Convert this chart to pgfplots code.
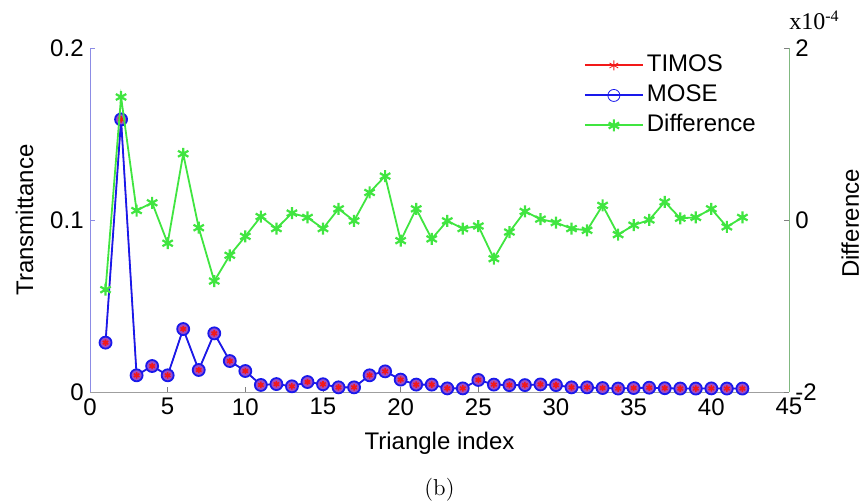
\documentclass[border=0pt]{standalone}
\usepackage{fontspec}
\usepackage{pgfplots}
\usepackage{pgfplotstable}
\pgfplotsset{compat=1.18}
\newfontfamily\arialfont{Liberation Sans}
\newfontfamily\timesfont{Liberation Serif}
\definecolor{mred}{rgb}{0.95,0.1,0.1}
\definecolor{mblue}{rgb}{0.1,0.1,0.92}
\definecolor{mgreen}{rgb}{0.25,0.9,0.25}
\definecolor{mpurple}{rgb}{0.62,0.3,0.78}
\definecolor{spineL}{rgb}{0.55,0.55,0.9}
\definecolor{spineR}{rgb}{0.5,0.72,0.5}

\pgfplotstableread{
x t
1 0.0287
2 0.1585
3 0.0097
4 0.0151
5 0.0097
6 0.0366
7 0.0128
8 0.0341
9 0.0180
10 0.0122
11 0.0041
12 0.0046
13 0.0033
14 0.0058
15 0.0045
16 0.0027
17 0.0027
18 0.0097
19 0.0120
20 0.0072
21 0.0043
22 0.0043
23 0.0021
24 0.0021
25 0.0070
26 0.0043
27 0.0040
28 0.0040
29 0.0044
30 0.0040
31 0.0027
32 0.0027
33 0.0023
34 0.0020
35 0.0023
36 0.0025
37 0.0022
38 0.0020
39 0.0020
40 0.0021
41 0.0020
42 0.0020
}\transdata

\pgfplotstableread{
x d
1 -0.81
2 1.43
3 0.11
4 0.20
5 -0.27
6 0.77
7 -0.09
8 -0.71
9 -0.41
10 -0.19
11 0.04
12 -0.10
13 0.08
14 0.03
15 -0.10
16 0.13
17 -0.01
18 0.32
19 0.51
20 -0.24
21 0.13
22 -0.22
23 -0.01
24 -0.10
25 -0.07
26 -0.45
27 -0.14
28 0.10
29 0.01
30 -0.03
31 -0.10
32 -0.12
33 0.17
34 -0.17
35 -0.06
36 0.00
37 0.21
38 0.02
39 0.03
40 0.13
41 -0.08
42 0.03
}\diffdata

\begin{document}
\begin{tikzpicture}
\useasboundingbox (-45pt,-55pt) rectangle (386pt,196pt);
\pgfplotsset{
  every axis/.append style={
    width=349.5pt, height=172pt, scale only axis,
    at={(0,0)}, anchor=south west,
    xmin=0, xmax=45,
    tick align=inside, major tick length=2.5pt,
    /pgf/number format/assume math mode=true,
    tick label style={font=\arialfont\fontsize{12}{14}\selectfont, inner sep=1pt},
    label style={font=\arialfont\fontsize{12}{14}\selectfont},
  },
}
\begin{axis}[
  ymin=0, ymax=0.2,
  xtick={0,5,...,45}, ytick={0,0.1,0.2},
  yticklabels={0,0.1,0.2},
  axis x line*=bottom, axis y line*=left,
  x axis line style={-, draw=gray!75},
  y axis line style={-, draw=spineL},
  xtick style={gray}, ytick style={spineL},
  xticklabel style={yshift=-2pt},
  yticklabel style={xshift=-2pt},
  xlabel={Triangle index}, ylabel={Transmittance},
  xlabel style={at={(axis description cs:0.5,0)}, anchor=base, yshift=-29pt},
  ylabel style={at={(axis description cs:-0.0815,0.5)}, anchor=base, rotate=0},
]
\addplot[mred, line width=0.5pt, mark=asterisk, mark size=2pt] table[x=x,y=t] {\transdata};
\addplot[mblue, line width=0.9pt, mark=*, mark size=3pt, mark options={draw=mblue, fill=mpurple}] table[x=x,y=t] {\transdata};
\addplot[mred, only marks, mark=asterisk, mark size=1.6pt, mark options={line width=0.8pt}] table[x=x,y=t] {\transdata};
\end{axis}
\begin{axis}[
  name=ax2,
  ymin=-2, ymax=2,
  axis x line=none, axis y line*=right,
  ytick={-2,0,2}, yticklabels={-2,0,2},
  y axis line style={-, draw=spineR},
  ytick style={gray},
  yticklabel style={xshift=2pt},
  ylabel={Difference},
  ylabel style={at={(axis description cs:1.1,0.49)}, anchor=base, rotate=0, inner sep=0pt},
  legend style={draw=none, fill=none, at={(axis description cs:0.706,0.994)}, anchor=north west,
    inner sep=0pt, row sep=0pt,
    font=\arialfont\fontsize{12}{14}\selectfont,
    nodes={inner sep=1.5pt, text height=9pt, text depth=3pt, anchor=west}},
  legend cell align=left,
  legend image code/.code={
    \draw[#1, line width=1pt] (0pt,0pt) -- (29pt,0pt);
    \draw[#1] plot[only marks] coordinates {(14.5pt,0pt)};},
]
\addlegendimage{mred, mark=asterisk, mark size=2.5pt}
\addlegendentry{TIMOS}
\addlegendimage{mblue, mark=o, mark size=3pt}
\addlegendentry{MOSE}
\addplot[mgreen, line width=0.9pt, mark=asterisk, mark size=3pt, mark options={line width=1.1pt}] table[x=x,y=d] {\diffdata};
\addlegendentry{Difference}
\end{axis}
\node[anchor=base west, font=\timesfont\fontsize{12}{14}\selectfont, inner sep=0pt] at ([yshift=9pt]ax2.north east) {x10\textsuperscript{-4}};
\node[anchor=base, font=\fontsize{11.5}{13}\selectfont, inner sep=0pt] at (174.75pt,-52pt) {(b)};
\end{tikzpicture}
\end{document}
